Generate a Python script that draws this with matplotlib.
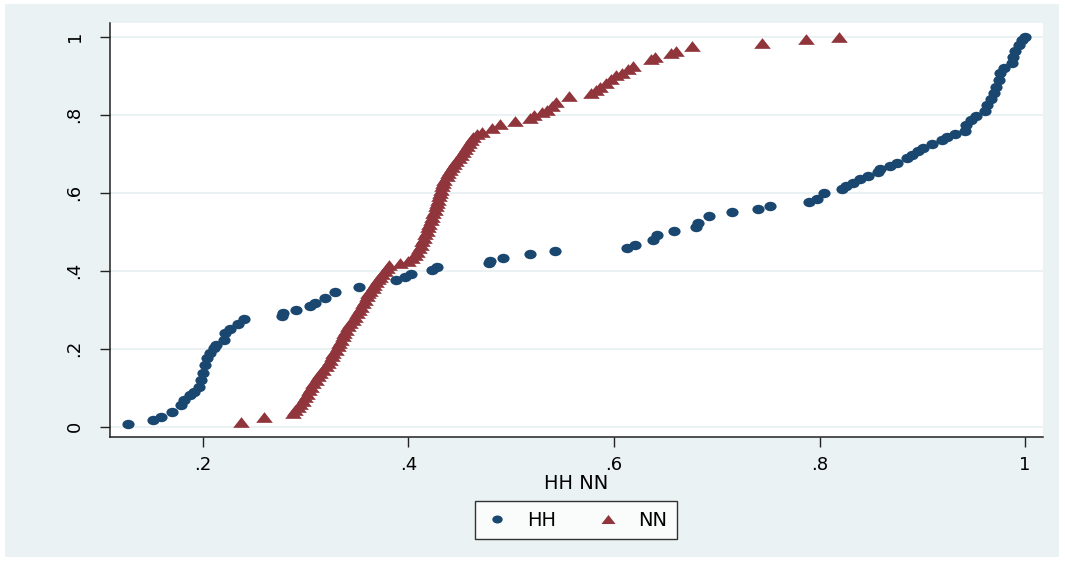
import matplotlib
matplotlib.use('Agg')

import matplotlib.pyplot as plt
import numpy as np
from matplotlib.path import Path
from matplotlib.patches import Rectangle


# === 数据 (cumulative distribution) ===
HH_x = [0.127, 0.151, 0.159, 0.170, 0.179, 0.182, 0.187, 0.191, 0.196, 0.198,
        0.200, 0.202, 0.204, 0.207, 0.211, 0.213, 0.220, 0.221, 0.226, 0.234,
        0.240, 0.277, 0.278, 0.291, 0.304, 0.309, 0.319, 0.328, 0.352, 0.388,
        0.397, 0.402, 0.423, 0.428, 0.478, 0.479, 0.492, 0.518, 0.543, 0.613,
        0.620, 0.638, 0.642, 0.658, 0.680, 0.682, 0.692, 0.715, 0.740, 0.752,
        0.790, 0.798, 0.804, 0.822, 0.826, 0.833, 0.839, 0.847, 0.857, 0.859,
        0.869, 0.875, 0.885, 0.890, 0.896, 0.901, 0.909, 0.919, 0.924, 0.932,
        0.942, 0.943, 0.947, 0.952, 0.961, 0.963, 0.967, 0.970, 0.972, 0.975,
        0.976, 0.980, 0.987, 0.988, 0.990, 0.994, 0.997, 1.000]
HH_y = [0.008, 0.017, 0.026, 0.038, 0.056, 0.068, 0.081, 0.090, 0.103, 0.120,
        0.137, 0.158, 0.175, 0.188, 0.201, 0.210, 0.222, 0.239, 0.250, 0.263,
        0.275, 0.285, 0.291, 0.299, 0.309, 0.318, 0.329, 0.346, 0.359, 0.376,
        0.385, 0.392, 0.402, 0.409, 0.419, 0.426, 0.433, 0.442, 0.450, 0.459,
        0.466, 0.479, 0.492, 0.502, 0.511, 0.523, 0.540, 0.550, 0.558, 0.567,
        0.575, 0.584, 0.598, 0.609, 0.617, 0.626, 0.634, 0.643, 0.654, 0.660,
        0.668, 0.677, 0.688, 0.697, 0.707, 0.715, 0.725, 0.735, 0.744, 0.751,
        0.759, 0.774, 0.786, 0.797, 0.810, 0.825, 0.840, 0.855, 0.872, 0.889,
        0.906, 0.919, 0.932, 0.949, 0.964, 0.979, 0.992, 1.000]

NN_x = [0.237, 0.259, 0.288, 0.290, 0.292, 0.294, 0.297, 0.299, 0.301, 0.303,
        0.305, 0.307, 0.310, 0.312, 0.314, 0.317, 0.320, 0.322, 0.324, 0.326,
        0.327, 0.329, 0.331, 0.332, 0.334, 0.336, 0.337, 0.339, 0.341, 0.343,
        0.346, 0.348, 0.350, 0.352, 0.354, 0.356, 0.358, 0.360, 0.361, 0.363,
        0.365, 0.366, 0.368, 0.370, 0.372, 0.374, 0.377, 0.379, 0.381, 0.392,
        0.400, 0.403, 0.406, 0.408, 0.410, 0.412, 0.413, 0.415, 0.416, 0.418,
        0.419, 0.420, 0.422, 0.423, 0.424, 0.426, 0.427, 0.428, 0.429, 0.430,
        0.431, 0.432, 0.433, 0.434, 0.435, 0.437, 0.438, 0.440, 0.442, 0.444,
        0.446, 0.449, 0.451, 0.453, 0.455, 0.457, 0.459, 0.461, 0.463, 0.467,
        0.472, 0.481, 0.489, 0.504, 0.518, 0.522, 0.530, 0.535, 0.540, 0.544,
        0.556, 0.578, 0.582, 0.586, 0.592, 0.597, 0.602, 0.608, 0.614, 0.618,
        0.636, 0.640, 0.655, 0.660, 0.676, 0.744, 0.787, 0.819]
NN_y = [0.013, 0.024, 0.034, 0.042, 0.050, 0.057, 0.066, 0.075, 0.085, 0.094,
        0.103, 0.111, 0.120, 0.129, 0.137, 0.146, 0.155, 0.163, 0.172, 0.180,
        0.188, 0.197, 0.206, 0.214, 0.223, 0.232, 0.240, 0.248, 0.257, 0.265,
        0.274, 0.282, 0.291, 0.299, 0.308, 0.316, 0.325, 0.334, 0.342, 0.349,
        0.356, 0.363, 0.370, 0.378, 0.385, 0.392, 0.399, 0.406, 0.414, 0.419,
        0.425, 0.432, 0.440, 0.448, 0.457, 0.466, 0.475, 0.484, 0.493, 0.502,
        0.511, 0.520, 0.529, 0.538, 0.547, 0.556, 0.565, 0.574, 0.582, 0.591,
        0.600, 0.608, 0.617, 0.625, 0.633, 0.642, 0.650, 0.658, 0.665, 0.673,
        0.680, 0.688, 0.696, 0.704, 0.712, 0.720, 0.728, 0.736, 0.744, 0.750,
        0.756, 0.767, 0.776, 0.784, 0.792, 0.799, 0.806, 0.812, 0.822, 0.832,
        0.848, 0.856, 0.864, 0.872, 0.882, 0.892, 0.901, 0.908, 0.916, 0.926,
        0.942, 0.949, 0.958, 0.964, 0.975, 0.985, 0.993, 1.000]

x_ticks = [0.2, 0.4, 0.6, 0.8, 1.0]
x_tick_labels = ['.2', '.4', '.6', '.8', '1']
y_ticks = [0, 0.2, 0.4, 0.6, 0.8, 1.0]
y_tick_labels = ['0', '.2', '.4', '.6', '.8', '1']

NAVY = '#1a476f'
MAROON = '#90353b'
BG = '#eaf2f3'

plt.rcParams['font.family'] = ['DejaVu Sans']

# 横向拉伸的标记 (the original picture is stretched sideways)
circ = Path.unit_circle()
ellipse = Path(circ.vertices * np.array([1.0, 0.77]), circ.codes)
tri = Path([(-1, -0.64), (1, -0.64), (0, 0.64), (-1, -0.64)],
           [Path.MOVETO, Path.LINETO, Path.LINETO, Path.CLOSEPOLY])

fig = plt.figure(figsize=(10.65, 5.63), dpi=100)
fig.patch.set_facecolor('white')
fig.patches.append(Rectangle((5 / 1065, 1 - 557 / 563), 1054 / 1065, 553 / 563,
                             transform=fig.transFigure, facecolor=BG,
                             edgecolor='none', zorder=-10))

ax = fig.add_axes([110 / 1065, 1 - 437 / 563, 933 / 1065, 414 / 563])
ax.set_facecolor('white')

ax.plot(HH_x, HH_y, linestyle='none', marker=ellipse, markersize=8.8,
        color=NAVY, markeredgewidth=0, label='HH', zorder=3)
ax.plot(NN_x, NN_y, linestyle='none', marker=tri, markersize=12,
        color=MAROON, markeredgewidth=0, label='NN', zorder=3)

ax.set_xlim(0.1095, 1.0175)
ax.set_ylim(-0.0264, 1.035)

ax.set_xticks(x_ticks)
ax.set_xticklabels(x_tick_labels, fontsize=13)
ax.set_yticks(y_ticks)
ax.set_yticklabels(y_tick_labels, fontsize=13, rotation=90, va='center')
ax.tick_params(axis='both', direction='out', length=7, width=1, color='#222222')
ax.tick_params(axis='x', pad=7)
ax.tick_params(axis='y', pad=12)

ax.grid(axis='y', color=BG, linewidth=1.4)
ax.set_axisbelow(True)
for side in ['top', 'right']:
    ax.spines[side].set_visible(False)
for side in ['left', 'bottom']:
    ax.spines[side].set_color('#222222')
    ax.spines[side].set_linewidth(1.1)

ax.set_xlabel('HH NN', fontsize=14, labelpad=0)

leg = fig.legend(loc='center', bbox_to_anchor=(576 / 1065, 1 - 520 / 563),
                 ncol=2, fontsize=14, frameon=True, fancybox=False,
                 handlelength=1.3, handletextpad=0.9, columnspacing=2.0,
                 borderpad=0.5, borderaxespad=0, markerscale=0.85)
leg.get_frame().set_edgecolor('black')
leg.get_frame().set_linewidth(1)
leg.get_frame().set_facecolor('white')

fig.savefig('out.png', dpi=100, facecolor=fig.get_facecolor())
